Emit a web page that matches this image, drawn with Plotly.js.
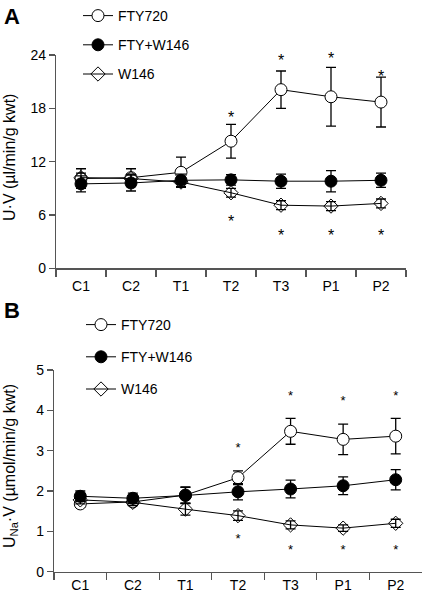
<!DOCTYPE html>
<html>
<head>
<meta charset="utf-8">
<script src="https://cdn.plot.ly/plotly-3.0.1.min.js"></script>
<style>html,body{margin:0;padding:0;background:#fff}#chart{width:424px;height:592px}</style>
</head>
<body>
<div id="chart"></div>
<script>
// Categories (time periods)
const categories = ['C1', 'C2', 'T1', 'T2', 'T3', 'P1', 'P2'];

// Panel A: U·V (µl/min/g kwt)
const ftyA = [10.1, 10.2, 10.8, 14.3, 20.1, 19.3, 18.7];
const ftyAErr = [1.1, 1.0, 1.7, 1.9, 2.1, 3.3, 2.8];
const combA = [9.5, 9.6, 9.9, 9.95, 9.8, 9.8, 9.9];
const combAErr = [0.9, 0.9, 0.7, 0.6, 0.8, 1.2, 0.8];
const w146A = [10.2, 10.1, 9.7, 8.5, 7.1, 7.0, 7.3];
const w146AErr = [0.5, 0.5, 0.5, 0.5, 0.5, 0.5, 0.5];
// significance marks (*): positions of the marks
const starsAUp = [null, null, null, 16.85, 23.25, 23.45, 21.45];
const starsADown = [null, null, null, 5.15, 3.55, 3.55, 3.55];

// Panel B: UNa·V (µmol/min/g kwt)
const ftyB = [1.68, 1.73, 1.9, 2.33, 3.48, 3.28, 3.36];
const ftyBErr = [0.08, 0.08, 0.2, 0.17, 0.32, 0.38, 0.44];
const combB = [1.87, 1.82, 1.89, 1.98, 2.05, 2.13, 2.28];
const combBErr = [0.13, 0.13, 0.2, 0.2, 0.22, 0.22, 0.25];
const w146B = [1.78, 1.72, 1.55, 1.39, 1.16, 1.08, 1.2];
const w146BErr = [0.1, 0.08, 0.15, 0.12, 0.1, 0.08, 0.1];
const starsBUp = [null, null, null, 3.04, 4.33, 4.22, 4.33];
const starsBDown = [null, null, null, 0.8, 0.52, 0.52, 0.52];

const seriesNames = ['FTY720', 'FTY+W146', 'W146'];

const FONT = 'Arial, "Liberation Sans", sans-serif';

function series(name, y, err, symbol, fill, xa, ya, leg, rank) {
  return {
    type: 'scatter', mode: 'lines+markers', name: name, legendgroup: name,
    x: categories, y: y, xaxis: xa, yaxis: ya, legend: leg, legendrank: rank,
    line: {color: '#000', width: 1},
    marker: {symbol: symbol, size: symbol.indexOf('diamond') === 0 ? 11 : 12,
             color: fill, line: {color: '#000', width: 1}},
    error_y: {type: 'data', array: err, visible: true, color: '#000', thickness: 1.3, width: 5},
    cliponaxis: false
  };
}
function stars(y, size, xa, ya) {
  const idx = y.map((v, i) => i).filter(i => y[i] !== null);
  return {
    type: 'scatter', mode: 'text', x: idx.map(i => categories[i]), y: idx.map(i => y[i]),
    text: idx.map(() => '*'),
    textposition: 'middle center', textfont: {family: FONT, size: size, color: '#000'},
    xaxis: xa, yaxis: ya, showlegend: false, hoverinfo: 'skip', cliponaxis: false
  };
}

const data = [
  series(seriesNames[0], ftyA, ftyAErr, 'circle', '#fff', 'x', 'y', 'legend', 1),
  series(seriesNames[2], w146A, w146AErr, 'diamond-open', '#000', 'x', 'y', 'legend', 3),
  series(seriesNames[1], combA, combAErr, 'circle', '#000', 'x', 'y', 'legend', 2),
  stars(starsAUp, 16, 'x', 'y'),
  stars(starsADown, 16, 'x', 'y'),
  series(seriesNames[0], ftyB, ftyBErr, 'circle', '#fff', 'x2', 'y2', 'legend2', 1),
  series(seriesNames[2], w146B, w146BErr, 'diamond-open', '#000', 'x2', 'y2', 'legend2', 3),
  series(seriesNames[1], combB, combBErr, 'circle', '#000', 'x2', 'y2', 'legend2', 2),
  stars(starsBUp, 13, 'x2', 'y2'),
  stars(starsBDown, 13, 'x2', 'y2')
];

const axisLine = '#555';
function xaxis(domain, anchor, standoff) {
  return {
    domain: domain, anchor: anchor, type: 'category', range: [-0.5, 6.5],
    tickson: 'boundaries', ticks: 'outside', ticklen: 7, tickwidth: 1.2, tickcolor: axisLine,
    showline: true, linecolor: axisLine, linewidth: 1.2, showgrid: false, zeroline: false,
    ticklabelstandoff: standoff,
    tickfont: {family: FONT, size: 14, color: '#000'}, automargin: false, fixedrange: true
  };
}
function yaxis(domain, anchor, range, dtick) {
  return {
    domain: domain, anchor: anchor, range: range, dtick: dtick, tick0: 0,
    ticks: 'outside', ticklen: 6, tickwidth: 1.2, tickcolor: axisLine,
    showline: true, linecolor: axisLine, linewidth: 1.2, showgrid: false, zeroline: false,
    tickfont: {family: FONT, size: 14, color: '#000'}, automargin: false, fixedrange: true
  };
}
function legend(x, y, gap) {
  return {
    x: x, y: y, xanchor: 'left', yanchor: 'top', xref: 'paper', yref: 'paper',
    bgcolor: 'rgba(0,0,0,0)', borderwidth: 0, traceorder: 'grouped',
    font: {family: FONT, size: 14, color: '#000'}, tracegroupgap: gap, itemclick: false
  };
}

const layout = {
  width: 424, height: 592,
  margin: {l: 0, r: 0, t: 0, b: 0},
  paper_bgcolor: '#fff', plot_bgcolor: '#fff',
  font: {family: FONT, color: '#000'},
  xaxis: xaxis([56 / 424, 406 / 424], 'y', 5),
  yaxis: yaxis([(592 - 268.3) / 592, (592 - 55) / 592], 'x', [0, 24], 6),
  xaxis2: xaxis([54 / 424, 422 / 424], 'y2', 0),
  yaxis2: yaxis([(592 - 571.7) / 592, (592 - 370) / 592], 'x2', [0, 5], 1),
  legend: legend(78 / 424, 1, 8),
  legend2: legend(81 / 424, (592 - 309) / 592, 11),
  annotations: [
    {text: '<b>A</b>', x: 2 / 424, y: 1 - 2 / 592, xref: 'paper', yref: 'paper',
     xanchor: 'left', yanchor: 'top', showarrow: false, font: {family: FONT, size: 22, color: '#000'}},
    {text: '<b>B</b>', x: 2 / 424, y: 1 - 296 / 592, xref: 'paper', yref: 'paper',
     xanchor: 'left', yanchor: 'top', showarrow: false, font: {family: FONT, size: 22, color: '#000'}},
    {text: 'U·V (µl/min/g kwt)', textangle: -90, x: 9 / 424, y: 1 - 158 / 592,
     xref: 'paper', yref: 'paper', xanchor: 'center', yanchor: 'middle', showarrow: false,
     font: {family: FONT, size: 16, color: '#000'}},
    {text: 'U<sub>Na</sub>·V (µmol/min/g kwt)', textangle: -90, x: 10 / 424, y: 1 - 466 / 592,
     xref: 'paper', yref: 'paper', xanchor: 'center', yanchor: 'middle', showarrow: false,
     font: {family: FONT, size: 16, color: '#000'}}
  ]
};

Plotly.newPlot('chart', data, layout, {displayModeBar: false, staticPlot: true});
</script>
</body>
</html>
